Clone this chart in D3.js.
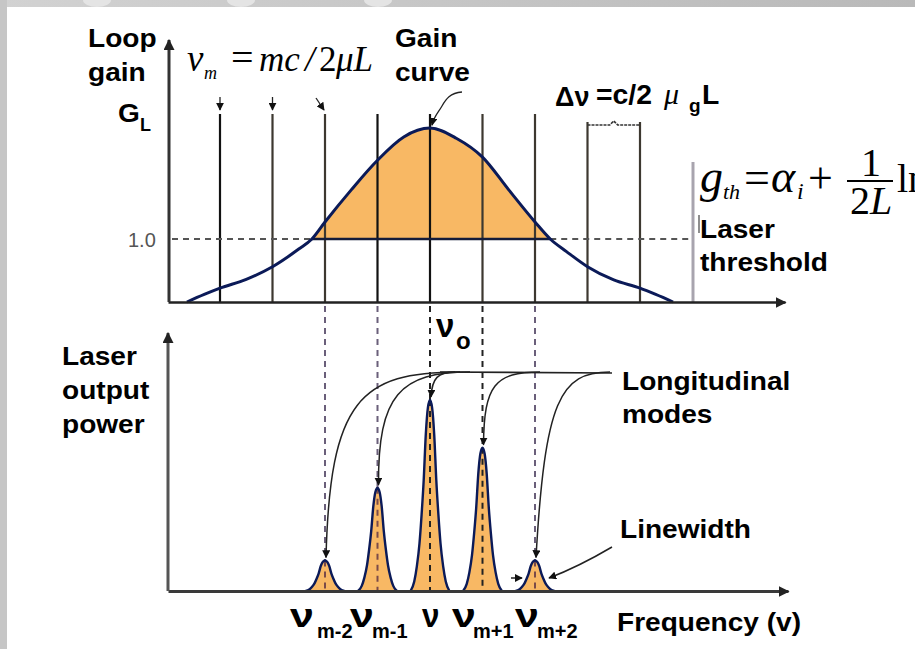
<!DOCTYPE html>
<html>
<head>
<meta charset="utf-8">
<script src="https://cdn.jsdelivr.net/npm/d3@7"></script>
<style>
  body { margin: 0; background: #fff; }
  svg { display: block; }
</style>
</head>
<body>
<svg id="chart" width="915" height="649"></svg>
<script>
// ---- Data -------------------------------------------------------------
// Cavity modes, counted in mode spacings from the gain peak ν0 (mode m = 0)
const modeIndex = [-4, -3, -2, -1, 0, 1, 2, 3, 4];

// Loop gain curve: frequency (mode spacings from ν0) and gain G_L
const gainFreq  = [-4.63, -4.3, -4.0, -3.5, -3.0, -2.5, -2.25, -2.0, -1.5, -1.0, -0.5, 0.0,
                    0.5, 1.0, 1.5, 2.0, 2.29, 2.6, 3.0, 3.5, 4.0, 4.3, 4.63];
const gainValue = [0.00, 0.12, 0.22, 0.36, 0.56, 0.84, 1.00, 1.27, 1.78, 2.25, 2.62, 2.76,
                   2.60, 2.30, 1.78, 1.27, 1.00, 0.80, 0.56, 0.35, 0.22, 0.12, 0.00];
const thresholdGain = 1.0;

// Modes above threshold and their relative output power
const lasingFreq   = [-2, -1, 0, 1, 2];
const lasingPower  = [0.16, 0.54, 1.00, 0.75, 0.16];
const lasingSub    = ["m-2", "m-1", "", "m+1", "m+2"];

// Line shape of one longitudinal mode: offset from its centre and relative level
const lineOffset = [-0.37, -0.30, -0.25, -0.20, -0.16, -0.12, -0.08, -0.04, 0,
                     0.04, 0.08, 0.12, 0.16, 0.20, 0.25, 0.30, 0.37];
const lineLevel  = [0, 0.05, 0.13, 0.25, 0.40, 0.58, 0.82, 0.96, 1,
                    0.96, 0.82, 0.58, 0.40, 0.25, 0.13, 0.05, 0];

// ---- Setup ------------------------------------------------------------
const svg = d3.select("#chart");
const SANS = "'Liberation Sans', Arial, Helvetica, sans-serif";
const SERIF = "'Liberation Serif', 'Times New Roman', serif";
const NAVY = "#0b1a58";
const ORANGE = "#f8b864";

const x = d3.scaleLinear().domain([-4, 4]).range([220, 640]);
const yG = d3.scaleLinear().domain([0, 1]).range([302, 239]);   // loop gain
const yP = d3.scaleLinear().domain([0, 1]).range([591, 400]);   // output power

const defs = svg.append("defs");
function marker(id, size, color) {
  defs.append("marker")
    .attr("id", id).attr("viewBox", "0 0 10 10")
    .attr("refX", 9).attr("refY", 5)
    .attr("markerWidth", size).attr("markerHeight", size)
    .attr("markerUnits", "userSpaceOnUse").attr("orient", "auto")
    .append("path").attr("d", "M0,0 L10,5 L0,10 Z").attr("fill", color);
}
marker("axisArrow", 11, "#222");
marker("smallArrow", 8, "#111");

// Slide frame: grey band along the top and the left edge
const grad = defs.append("linearGradient").attr("id", "band");
grad.append("stop").attr("offset", "0%").attr("stop-color", "#d2d2d2");
grad.append("stop").attr("offset", "100%").attr("stop-color", "#b9b9b9");
svg.append("rect").attr("x", 0).attr("y", 0).attr("width", 915).attr("height", 7).attr("fill", "url(#band)");
[97, 241, 378].forEach(cx => {
  svg.append("ellipse").attr("cx", cx).attr("cy", 0).attr("rx", 14).attr("ry", 7).attr("fill", "#e4e4e4");
});
svg.append("rect").attr("x", 0).attr("y", 0).attr("width", 7).attr("height", 649).attr("fill", "#c6c6c6");

// ---- Upper panel: loop gain --------------------------------------------
const gainPts = gainFreq.map((f, i) => [f, gainValue[i]]);

// Gain above threshold, filled
defs.append("clipPath").attr("id", "aboveThreshold")
  .append("rect").attr("x", 0).attr("y", 0).attr("width", 915).attr("height", yG(thresholdGain));
svg.append("path")
  .datum(gainPts)
  .attr("clip-path", "url(#aboveThreshold)")
  .attr("fill", ORANGE)
  .attr("d", d3.area().x(d => x(d[0])).y0(yG(thresholdGain)).y1(d => yG(d[1])).curve(d3.curveMonotoneX));

// Cavity mode lines
svg.append("g").selectAll("line")
  .data(modeIndex)
  .join("line")
  .attr("x1", d => x(d)).attr("x2", d => x(d))
  .attr("y1", d => d > 2 ? 122 : 114).attr("y2", yG(0))
  .attr("stroke", d => (d === -4 || d === 0 || d === -1) ? "#111" : "#3d3830")
  .attr("stroke-width", 2.2);

// Mode spacing bracket between the two right-most lines
svg.append("path")
  .attr("d", `M${x(3)},125 H${(x(3) + x(4)) / 2 - 4} l4,-4 l4,4 H${x(4)}`)
  .attr("fill", "none").attr("stroke", "#333").attr("stroke-width", 1.6)
  .attr("stroke-dasharray", "3,1");

// Threshold level: dashed outside the gain region, solid beneath it
const xCrossL = x(-2.25), xCrossR = x(2.29);
svg.append("line").attr("x1", 172).attr("x2", xCrossL).attr("y1", yG(1)).attr("y2", yG(1))
  .attr("stroke", "#555").attr("stroke-width", 2).attr("stroke-dasharray", "6,5");
svg.append("line").attr("x1", xCrossR).attr("x2", 693).attr("y1", yG(1)).attr("y2", yG(1))
  .attr("stroke", "#555").attr("stroke-width", 2).attr("stroke-dasharray", "6,5");
svg.append("line").attr("x1", xCrossL).attr("x2", xCrossR).attr("y1", yG(1)).attr("y2", yG(1))
  .attr("stroke", "#151c3a").attr("stroke-width", 2.5);

// Gain curve
svg.append("path")
  .datum(gainPts)
  .attr("fill", "none").attr("stroke", NAVY).attr("stroke-width", 3)
  .attr("d", d3.line().x(d => x(d[0])).y(d => yG(d[1])).curve(d3.curveMonotoneX));

// Threshold marker bar
svg.append("line").attr("x1", 693).attr("x2", 693).attr("y1", 162).attr("y2", yG(0))
  .attr("stroke", "#a8a4ae").attr("stroke-width", 3);
svg.append("line").attr("x1", 699).attr("x2", 699).attr("y1", 215).attr("y2", 233)
  .attr("stroke", "#444").attr("stroke-width", 1.2);

// Axes (upper)
const xAxisTop = d3.scaleLinear().domain([x.invert(168), x.invert(785)]).range([168, 785]);
svg.append("g").attr("transform", `translate(0,${yG(0)})`)
  .call(d3.axisBottom(xAxisTop).ticks(0).tickSizeOuter(0))
  .call(g => g.select(".domain").attr("stroke", "#222").attr("stroke-width", 2.5).attr("marker-end", "url(#axisArrow)"));
const yAxisTop = d3.scaleLinear().domain([0, yG.invert(40)]).range([yG(0), 40]);
svg.append("g").attr("transform", "translate(169,0)")
  .call(d3.axisLeft(yAxisTop).ticks(0).tickSizeOuter(0))
  .call(g => g.select(".domain").attr("stroke", "#333").attr("stroke-width", 3)
    .attr("d", `M0,${yG(0)}V40`).attr("marker-end", "url(#axisArrow)"));

// Pointers from the mode formula to the first lines
[[x(-4), 97, x(-4), 110], [x(-3), 97, x(-3), 110], [x(-2) - 9, 98, x(-2) - 1, 110]].forEach(p => {
  svg.append("line").attr("x1", p[0]).attr("y1", p[1]).attr("x2", p[2]).attr("y2", p[3])
    .attr("stroke", "#222").attr("stroke-width", 1.3).attr("marker-end", "url(#smallArrow)");
});

// Pointer from "Gain curve" label to the peak
const peakY = yG(d3.max(gainValue));
svg.append("path")
  .attr("d", `M462,92 C450,93 446,99 442,106 C438,113 434,116 ${x(0) + 2},${peakY - 3}`)
  .attr("fill", "none").attr("stroke", "#222").attr("stroke-width", 1.3)
  .attr("marker-end", "url(#smallArrow)");

// ---- Lower panel: output spectrum --------------------------------------
// Dashed projections of the lasing modes
svg.append("g").selectAll("line")
  .data(lasingFreq)
  .join("line")
  .attr("x1", d => x(d)).attr("x2", d => x(d))
  .attr("y1", 306).attr("y2", yP(0))
  .attr("stroke", d => d === 0 || d === 1 ? "#222" : "#6a5f7a")
  .attr("stroke-width", 2).attr("stroke-dasharray", "6,5");

const peakArea = d3.area().x(d => d[0]).y0(yP(0)).y1(d => d[1]).curve(d3.curveMonotoneX);
const peakLine = d3.line().x(d => d[0]).y(d => d[1]).curve(d3.curveMonotoneX);
const peaks = lasingFreq.map((f, i) =>
  lineOffset.map((o, j) => [x(f + o), yP(lasingPower[i] * lineLevel[j])]));

svg.append("g").selectAll("path").data(peaks).join("path")
  .attr("d", peakArea).attr("fill", ORANGE);
// projections show through the filled peaks
svg.append("g").selectAll("line")
  .data(lasingFreq)
  .join("line")
  .attr("x1", d => x(d)).attr("x2", d => x(d))
  .attr("y1", (d, i) => yP(lasingPower[i])).attr("y2", yP(0))
  .attr("stroke", d => d === 0 || d === 1 ? "#222" : "#7a4a48")
  .attr("stroke-width", 2).attr("stroke-dasharray", "6,5");
svg.append("g").selectAll("path").data(peaks).join("path")
  .attr("d", peakLine).attr("fill", "none").attr("stroke", NAVY).attr("stroke-width", 2.4);

// Axes (lower)
const xAxisBot = d3.scaleLinear().domain([x.invert(168), x.invert(788)]).range([168, 788]);
svg.append("g").attr("transform", `translate(0,${yP(0)})`)
  .call(d3.axisBottom(xAxisBot).ticks(0).tickSizeOuter(0))
  .call(g => g.select(".domain").attr("stroke", "#3a3a3a").attr("stroke-width", 3).attr("marker-end", "url(#axisArrow)"));
const yAxisBot = d3.scaleLinear().domain([0, yP.invert(333)]).range([yP(0), 333]);
svg.append("g").attr("transform", "translate(168,0)")
  .call(d3.axisLeft(yAxisBot).ticks(0).tickSizeOuter(0))
  .call(g => g.select(".domain").attr("stroke", "#555").attr("stroke-width", 3)
    .attr("d", `M0,${yP(0)}V333`).attr("marker-end", "url(#axisArrow)"));

// Leader lines from "Longitudinal modes" to each mode peak
const trunkY = 372;
svg.append("line").attr("x1", 440).attr("x2", 612).attr("y1", trunkY).attr("y2", trunkY + 1)
  .attr("stroke", "#222").attr("stroke-width", 1.6);
const leaderStart = [460, 470, 455, 540, 610];
const leaderBend  = [[360, 330, 400], [400, 378, 395], [438, 432, 378], [495, 484, 385], [560, 545, 400]];
lasingFreq.forEach((f, i) => {
  const px = x(f) + 1, py = yP(lasingPower[i]) - 3;
  const b = leaderBend[i];
  svg.append("path")
    .attr("d", `M${leaderStart[i]},${trunkY} C${b[0]},${trunkY} ${b[1]},${b[2]} ${px},${py}`)
    .attr("fill", "none").attr("stroke", "#222").attr("stroke-width", 1.5)
    .attr("marker-end", "url(#smallArrow)");
});

// Linewidth pointers at the outer mode
const lwX = x(2), lwY = yP(0) - 13;
svg.append("path").attr("d", `M612,547 C590,560 570,570 ${lwX + 14},${lwY}`)
  .attr("fill", "none").attr("stroke", "#222").attr("stroke-width", 1.5).attr("marker-end", "url(#smallArrow)");
svg.append("line").attr("x1", lwX - 24).attr("x2", lwX - 13).attr("y1", lwY).attr("y2", lwY)
  .attr("stroke", "#222").attr("stroke-width", 1.5).attr("marker-end", "url(#smallArrow)");

// ---- Text ----------------------------------------------------------------
function label(txt, px, py, opts = {}) {
  return svg.append("text")
    .attr("transform", `translate(${px},${py}) scale(${opts.sx || 1},1)`)
    .attr("font-family", opts.family || SANS)
    .attr("font-size", opts.size || 26)
    .attr("font-weight", opts.weight || "bold")
    .attr("font-style", opts.style || "normal")
    .attr("fill", opts.fill || "#000")
    .attr("text-anchor", opts.anchor || "start")
    .text(txt);
}
const big = { size: 26, sx: 1.08 };

label("Loop", 88, 47, big);
label("gain", 88, 81, big);
label("G", 118, 122, big);
label("L", 140, 131, { size: 18 });

label("Gain", 395, 47, big);
label("curve", 395, 81, big);

label("Laser", 700, 238, big);
label("threshold", 700, 271, big);

label("Laser", 62, 365, big);
label("output", 62, 399, big);
label("power", 62, 433, big);

label("Longitudinal", 622, 390, big);
label("modes", 622, 423, big);
label("Linewidth", 620, 538, big);
label("Frequency (v)", 617, 631, big);

// Threshold tick label
label("1.0", 128, 247, { size: 20, weight: "normal", fill: "#555" });

// Gain peak frequency
svg.append("rect").attr("x", 435).attr("y", 304).attr("width", 36).attr("height", 48).attr("fill", "#fff");
label("ν", 436, 337, { size: 33 });
label("o", 456, 349, { size: 24 });

// Mode labels along the frequency axis
const nuX  = [290, 350, 422, 452, 515];
const subX = [317, 372, 0, 473, 537];
lasingSub.forEach((s, i) => {
  label("ν", nuX[i], 627, { size: 33, sx: s ? 1.3 : 0.95 });
  if (s) label(s, subX[i], 638, { size: 20 });
});

// Mode frequency formula
const f1 = { family: SERIF, size: 35, weight: "normal", style: "italic" };
label("ν", 187, 71, { family: SERIF, size: 37, weight: "normal", style: "italic" });
label("m", 204, 79, { family: SERIF, size: 18, weight: "normal", style: "italic" });
label("=", 231, 71, { family: SERIF, size: 40, weight: "normal" });
label("mc", 259, 71, f1);
label("/", 305, 71, f1);
label("2", 319, 71, { family: SERIF, size: 35, weight: "normal" });
label("μL", 336, 71, f1);

// Mode spacing
label("Δν", 555, 106, { size: 27, sx: 1.0 });
label("=c/2", 596, 104, { size: 27, sx: 1.05 });
label("μ", 664, 104, { family: SERIF, size: 30, weight: "normal", style: "italic" });
label("g", 689, 112, { size: 19 });
label("L", 702, 104, { size: 27, sx: 1.05 });

// Threshold gain formula
const f2 = { family: SERIF, size: 46, weight: "normal", style: "italic" };
const f2up = { family: SERIF, size: 40, weight: "normal" };
label("g", 700, 192, f2);
label("th", 723, 199, { family: SERIF, size: 22, weight: "normal", style: "italic" });
label("=", 744, 193, { family: SERIF, size: 46, weight: "normal" });
label("α", 771, 192, f2);
label("i", 797, 199, { family: SERIF, size: 24, weight: "normal", style: "italic" });
label("+", 808, 193, { family: SERIF, size: 44, weight: "normal" });
svg.append("line").attr("x1", 847).attr("x2", 893).attr("y1", 181).attr("y2", 181)
  .attr("stroke", "#000").attr("stroke-width", 1.8);
label("1", 871, 176, Object.assign({ anchor: "middle" }, f2up));
svg.append("text").attr("x", 871).attr("y", 214).attr("text-anchor", "middle")
  .attr("font-family", SERIF).attr("font-size", 40)
  .call(t => { t.append("tspan").text("2"); t.append("tspan").attr("font-style", "italic").text("L"); });
// the logarithm runs past the right edge
label("ln", 897, 192, f2up);
</script>
</body>
</html>
